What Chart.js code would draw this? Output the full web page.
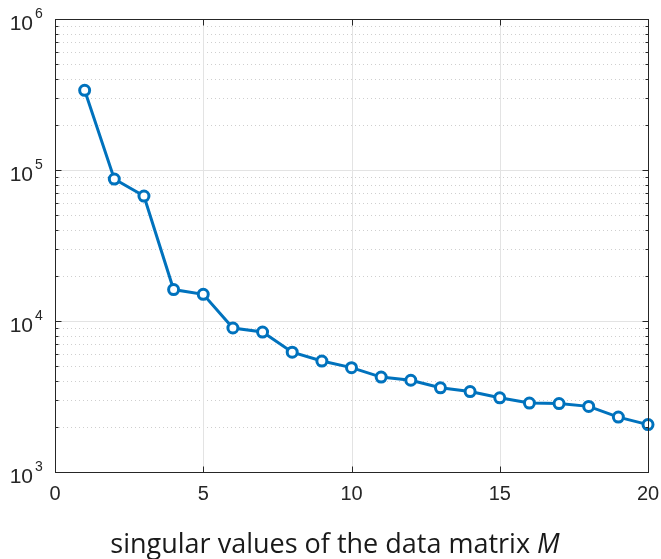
<!DOCTYPE html>
<html>
<head>
  <meta charset="utf-8">
  <title>Singular values</title>
  <style>
    body { margin: 0; background: #fff; }
    canvas { display: block; }
  </style>
</head>
<body>
  <canvas id="svChart" width="661" height="559"></canvas>
  <script src="https://cdn.jsdelivr.net/npm/chart.js"></script>
  <script>
    // data
    const indices = [1, 2, 3, 4, 5, 6, 7, 8, 9, 10, 11, 12, 13, 14, 15, 16, 17, 18, 19, 20];
    const singularValues = [337000, 87100, 67200, 16150, 15030, 8990, 8450, 6220, 5430, 4910,
                            4250, 4050, 3610, 3410, 3100, 2860, 2840, 2720, 2310, 2060];
    const xTicks = [0, 5, 10, 15, 20];
    const yDecades = [3, 4, 5, 6];
    const xTitle = "singular values of the data matrix ";

    const AX = "#262626";
    const TICKFONT = "'Liberation Sans', Arial, sans-serif";
    const TITLEFONT = "'Open Sans', sans-serif";

    // matlab style axes: grid, box, inward ticks, 10^n labels
    const matlabAxes = {
      id: "matlabAxes",
      beforeDatasetsDraw(chart) {
        const { ctx, chartArea: a, scales: { x, y } } = chart;
        ctx.save();
        ctx.lineWidth = 1;
        // minor dotted lines
        ctx.strokeStyle = "#cfcfcf";
        ctx.setLineDash([1, 3]);
        for (let d = 3; d < 6; d++) {
          for (let m = 2; m <= 9; m++) {
            const py = Math.round(y.getPixelForValue(m * Math.pow(10, d))) + 0.5;
            ctx.beginPath(); ctx.moveTo(a.left, py); ctx.lineTo(a.right, py); ctx.stroke();
          }
        }
        // major solid lines
        ctx.setLineDash([]);
        ctx.strokeStyle = "#e3e3e3";
        yDecades.forEach(d => {
          const py = Math.round(y.getPixelForValue(Math.pow(10, d))) + 0.5;
          ctx.beginPath(); ctx.moveTo(a.left, py); ctx.lineTo(a.right, py); ctx.stroke();
        });
        xTicks.forEach(t => {
          const px = Math.round(x.getPixelForValue(t)) + 0.5;
          ctx.beginPath(); ctx.moveTo(px, a.top); ctx.lineTo(px, a.bottom); ctx.stroke();
        });
        ctx.restore();
      },
      afterDatasetsDraw(chart) {
        const { ctx, chartArea: a, scales: { x, y } } = chart;
        const L = Math.round(a.left) + 0.5, R = Math.round(a.right) + 0.5;
        const T = Math.round(a.top) + 0.5, B = Math.round(a.bottom) + 0.5;
        ctx.save();
        ctx.strokeStyle = AX;
        ctx.lineWidth = 1;
        ctx.strokeRect(L, T, R - L, B - T);
        ctx.beginPath();
        xTicks.forEach(t => {
          const px = Math.round(x.getPixelForValue(t)) + 0.5;
          ctx.moveTo(px, B); ctx.lineTo(px, B - 6);
          ctx.moveTo(px, T); ctx.lineTo(px, T + 6);
        });
        for (let d = 3; d <= 6; d++) {
          for (let m = 1; m <= 9; m++) {
            if (d === 6 && m > 1) break;
            const len = m === 1 ? 6 : 3;
            const py = Math.round(y.getPixelForValue(m * Math.pow(10, d))) + 0.5;
            ctx.moveTo(L, py); ctx.lineTo(L + len, py);
            ctx.moveTo(R, py); ctx.lineTo(R - len, py);
          }
        }
        ctx.stroke();

        // tick labels
        ctx.fillStyle = AX;
        ctx.font = "20px " + TICKFONT;
        ctx.textAlign = "center";
        ctx.textBaseline = "alphabetic";
        xTicks.forEach(t => ctx.fillText(String(t), x.getPixelForValue(t), 500));
        yDecades.forEach(d => {
          const py = y.getPixelForValue(Math.pow(10, d));
          ctx.font = "21px " + TICKFONT;
          ctx.textAlign = "right";
          ctx.fillText("10", 33, py + 11);
          ctx.font = "14px " + TICKFONT;
          ctx.textAlign = "left";
          ctx.fillText(String(d), 35, py - 1);
        });

        // axis title
        ctx.fillStyle = "#1a1a1a";
        ctx.font = "27px " + TITLEFONT;
        const w1 = ctx.measureText(xTitle).width;
        ctx.font = "italic 27px " + TITLEFONT;
        const w2 = ctx.measureText("M").width;
        const x0 = 335 - (w1 + w2) / 2;
        ctx.textAlign = "left";
        ctx.font = "27px " + TITLEFONT;
        ctx.fillText(xTitle, x0, 553);
        ctx.font = "italic 27px " + TITLEFONT;
        ctx.fillText("M", x0 + w1, 553);
        ctx.restore();
      }
    };

    new Chart(document.getElementById("svChart"), {
      type: "line",
      data: {
        datasets: [{
          data: indices.map((v, i) => ({ x: v, y: singularValues[i] })),
          borderColor: "#0072BD",
          borderWidth: 3,
          pointRadius: 5,
          pointBorderWidth: 3,
          pointBorderColor: "#0072BD",
          pointBackgroundColor: "#ffffff",
          tension: 0,
          clip: false
        }]
      },
      options: {
        responsive: false,
        animation: false,
        events: [],
        layout: { padding: { left: 55, right: 13, top: 19, bottom: 87 } },
        plugins: { legend: { display: false }, tooltip: { enabled: false } },
        scales: {
          x: { type: "linear", min: 0, max: 20, display: false },
          y: { type: "logarithmic", min: 1000, max: 1000000, display: false }
        }
      },
      plugins: [matlabAxes]
    });
  </script>
</body>
</html>
